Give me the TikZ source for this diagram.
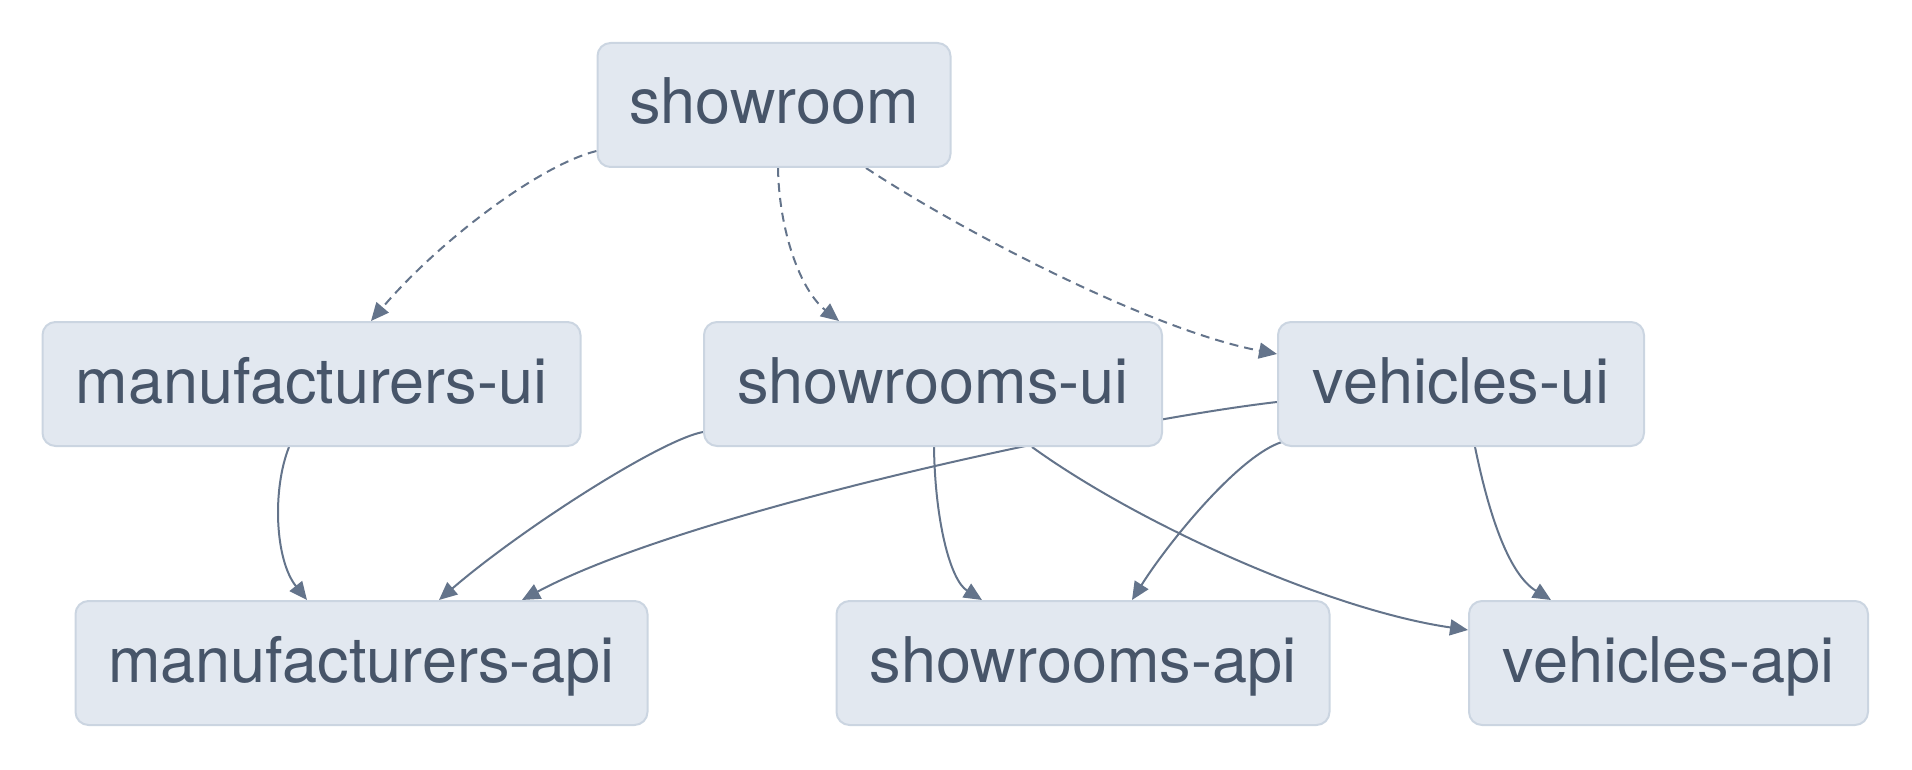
\documentclass[tikz,border=0pt]{standalone}
\usepackage{fontspec}
\setmainfont{TeX Gyre Heros}
\usetikzlibrary{arrows.meta}
\definecolor{boxfill}{HTML}{E2E8F0}
\definecolor{boxline}{HTML}{CBD5E1}
\definecolor{boxtext}{HTML}{475569}
\definecolor{edgecol}{HTML}{64748B}
\pgfdeclarelayer{bg}
\pgfsetlayers{bg,main}
\begin{document}
\begin{tikzpicture}[x=1pt,y=-1pt,
  svc/.style={draw=boxline, line width=2pt, fill=boxfill, rounded corners=13pt,
    minimum height=124pt, inner sep=0pt, text=boxtext, text height=46pt, text depth=8pt,
    font=\fontsize{63}{75}\selectfont},
  dep/.style={draw=edgecol, line width=2pt, -{Triangle[length=18pt,width=16pt]}},
  optdep/.style={dep, dash pattern=on 9pt off 6pt}]
\useasboundingbox (0,0) rectangle (1912,770);
\node[svc, minimum width=353pt] (sr) at (774,105) {showroom};
\node[svc, minimum width=538pt] (mui) at (311.5,384) {manufacturers-ui};
\node[svc, minimum width=458pt] (sui) at (933,384) {showrooms-ui};
\node[svc, minimum width=366pt] (vui) at (1461,384) {vehicles-ui};
\node[svc, minimum width=572pt] (mapi) at (361.5,663) {manufacturers-api};
\node[svc, minimum width=493pt] (sapi) at (1083,663) {showrooms-api};
\node[svc, minimum width=399pt] (vapi) at (1668.5,663) {vehicles-api};
\begin{pgfonlayer}{bg}
\draw[optdep] ([yshift=-46pt]sr.west) .. controls (540,165) and (440,240) .. ([xshift=59.5pt]mui.north);
\draw[optdep] ([xshift=4pt]sr.south) .. controls (779,230) and (800,290) .. ([xshift=-94pt]sui.north);
\draw[optdep] ([xshift=92pt]sr.south) .. controls (960,230) and (1150,330) .. ([yshift=30pt]vui.west);
\draw[dep] ([xshift=-22.5pt]mui.south) .. controls (272,490) and (275,560) .. ([xshift=-54.5pt]mapi.north);
\draw[dep] ([yshift=-48pt]sui.west) .. controls (660,440) and (520,530) .. ([xshift=77.5pt]mapi.north);
\draw[dep] ([yshift=-18pt]vui.west) .. controls (1120,420) and (690,510) .. ([xshift=160.5pt]mapi.north);
\draw[dep] ([xshift=1pt]sui.south) .. controls (935,520) and (950,580) .. ([xshift=-101pt]sapi.north);
\draw[dep] ([xshift=99pt]sui.south) .. controls (1140,525) and (1330,610) .. ([yshift=33pt]vapi.west);
\draw[dep] ([xshift=5pt,yshift=5pt]vui.south west) .. controls (1240,455) and (1170,540) .. ([xshift=49pt]sapi.north);
\draw[dep] ([xshift=14pt]vui.south) .. controls (1490,520) and (1510,575) .. ([xshift=-117.5pt]vapi.north);
\end{pgfonlayer}
\end{tikzpicture}
\end{document}
